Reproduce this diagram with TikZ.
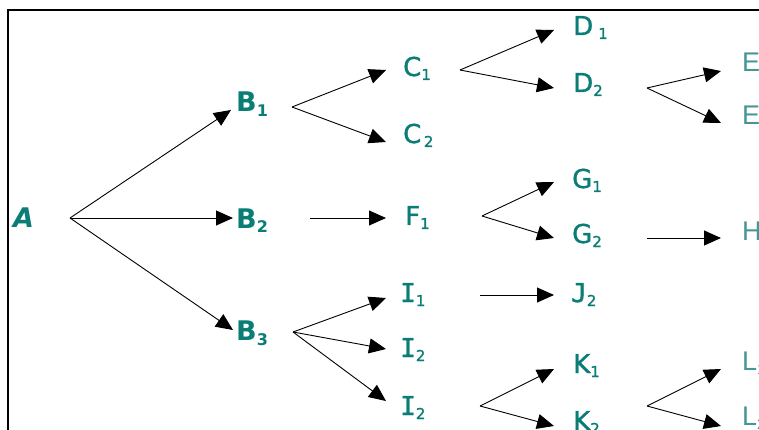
\documentclass[tikz,border=0pt]{standalone}
\usepackage{fontspec}
\setmainfont{DejaVu Sans}
\newfontfamily\medfont[FakeBold=1.3]{DejaVu Sans}
\newfontfamily\monofont[FakeBold=1.3]{DejaVu Sans Mono}
\newfontfamily\lightfont{Liberation Sans}
\usetikzlibrary{arrows.meta}
\definecolor{tealtxt}{RGB}{10,125,118}
\definecolor{lighttxt}{RGB}{70,150,150}
\newcommand{\lbl}[2]{#1\raisebox{-4pt}{\fontsize{15}{15}\selectfont #2}}
\newcommand{\lbll}[2]{#1\raisebox{-4pt}{\fontsize{15}{15}\selectfont #2}}
\newcommand{\lblb}[2]{#1\raisebox{-5pt}{\fontsize{16}{16}\selectfont\bfseries #2}}
\begin{document}
\begin{tikzpicture}[x=1pt,y=-1pt,
  lab/.style={anchor=base west,inner sep=0pt,text=tealtxt,font=\medfont\fontsize{26}{28}\selectfont},
  labb/.style={lab,font=\fontsize{27}{30}\selectfont\bfseries},
  labl/.style={lab,text=lighttxt,font=\lightfont\fontsize{27}{30}\selectfont},
  arr/.style={draw=black,line width=0.9pt,-{Triangle[length=17pt,width=15pt]}},
  frame/.style={draw=black,line width=1.4pt}]
\useasboundingbox (0,0) rectangle (759,430);
\clip (0,0) rectangle (759,430);
\fill[white] (0,0) rectangle (759,430);
\draw[frame] (8,432) -- (8,10) -- (762,10);

% labels
\node[labb] (A)  at (13,227) {\textit{A}};
\node[labb] (B1) at (236,112) {\lblb{B}{1}};
\node[labb] (B2) at (236,228) {\lblb{B}{2}};
\node[labb] (B3) at (236,340) {\lblb{B}{3}};
\node[lab] (C1) at (403,76) {\lbl{C}{1}};
\node[lab] (C2) at (403,143) {\lbl{C}{\,2}};
\node[lab] (D1) at (573,35) {\lbl{D}{\,\,1}};
\node[lab] (D2) at (573,92) {\lbl{D}{2}};
\node[labl] (E1) at (742,72) {\lbll{E}{1}};
\node[labl] (E2) at (742,125) {\lbll{E}{2}};
\node[lab] (F1) at (405,225) {\lbl{F}{1}};
\node[lab] (G1) at (572,188) {\lbl{G}{1}};
\node[lab] (G2) at (572,243) {\lbl{G}{2}};
\node[labl] (H) at (742,240) {H};
\node[lab] (I1) at (400,302) {\lbl{{\monofont I}}{1}};
\node[lab] (I2) at (400,357) {\lbl{{\monofont I}}{2}};
\node[lab] (I3) at (400,415) {\lbl{{\monofont I}}{2}};
\node[lab] (J2) at (571,302) {\lbl{{\monofont J}}{2}};
\node[lab] (K1) at (573,373) {\lbl{K}{1}};
\node[lab] (K2) at (573,430) {\lbl{K}{2}};
\node[labl] (L1) at (742,370) {\lbll{L}{1}};
\node[labl] (L2) at (742,425) {\lbll{L}{2}};

% fan origins and starts
\coordinate (oA)  at (70,218);
\coordinate (oB1) at (292,107);
\coordinate (oB2) at (310,218);
\coordinate (oB3) at (293,332);
\coordinate (oC1) at (460,70);
\coordinate (oD2) at (647,88);
\coordinate (oF1) at (482,216);
\coordinate (oG2) at (647,238);
\coordinate (oI1) at (480,295);
\coordinate (oI3) at (480,406);
\coordinate (oK2) at (647,406);

% arrow tips
\coordinate (tB1) at (231,110);
\coordinate (tB2) at (233,218);
\coordinate (tB3) at (233,330);
\coordinate (tC1) at (386,70);
\coordinate (tC2) at (386,142);
\coordinate (tD1) at (554,30);
\coordinate (tD2) at (554,88);
\coordinate (tE1) at (721,71);
\coordinate (tE2) at (721,123);
\coordinate (tF1) at (386,218);
\coordinate (tG1) at (554,182);
\coordinate (tG2) at (554,238);
\coordinate (tH)  at (721,238);
\coordinate (tI1) at (386,298);
\coordinate (tI2) at (386,349);
\coordinate (tI3) at (386,401);
\coordinate (tJ2) at (554,295);
\coordinate (tK1) at (554,369);
\coordinate (tK2) at (554,426);
\coordinate (tL1) at (721,369);
\coordinate (tL2) at (721,426);

\draw[arr] (oA) -- (tB1);
\draw[arr] (oA) -- (tB2);
\draw[arr] (oA) -- (tB3);
\draw[arr] (oB1) -- (tC1);
\draw[arr] (oB1) -- (tC2);
\draw[arr] (oB2) -- (tF1);
\draw[arr] (oB3) -- (tI1);
\draw[arr] (oB3) -- (tI2);
\draw[arr] (oB3) -- (tI3);
\draw[arr] (oC1) -- (tD1);
\draw[arr] (oC1) -- (tD2);
\draw[arr] (oD2) -- (tE1);
\draw[arr] (oD2) -- (tE2);
\draw[arr] (oF1) -- (tG1);
\draw[arr] (oF1) -- (tG2);
\draw[arr] (oG2) -- (tH);
\draw[arr] (oI1) -- (tJ2);
\draw[arr] (oI3) -- (tK1);
\draw[arr] (oI3) -- (tK2);
\draw[arr] (oK2) -- (tL1);
\draw[arr] (oK2) -- (tL2);
\end{tikzpicture}
\end{document}
